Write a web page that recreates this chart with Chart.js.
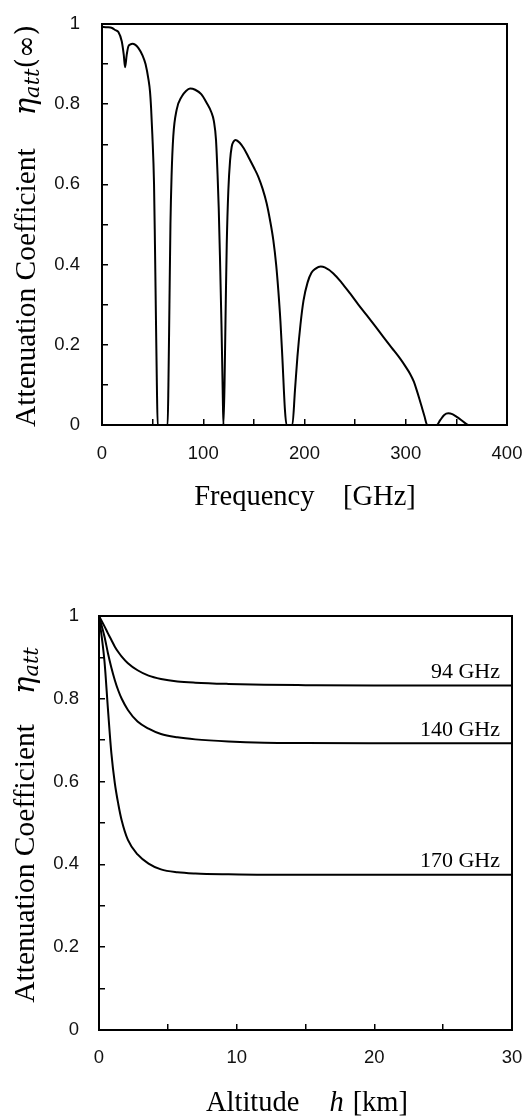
<!DOCTYPE html>
<html>
<head>
<meta charset="utf-8">
<script src="https://cdn.jsdelivr.net/npm/chart.js@4.4.1/dist/chart.umd.min.js"></script>
<style>
  body { margin: 0; background: #fff; }
  canvas { position: absolute; left: 0; }
  #freq-chart { top: 0; }
  #alt-chart { top: 560px; }
</style>
</head>
<body>
<canvas id="freq-chart" width="526" height="545"></canvas>
<canvas id="alt-chart" width="526" height="558"></canvas>
<script>
// top chart: attenuation coefficient at infinity vs frequency
const freqGHz = [0, 5, 10, 13, 16.2, 19.5, 21.5, 22.8, 24.4, 26, 28, 30, 33, 36, 40, 43, 46, 47.4, 48.5, 49.7,
  51.4, 52.3, 53.3, 54.2, 55, 60, 64.8, 65.6, 66.6, 67.6, 68.7, 70.4, 73.7, 78.7, 83, 87, 92, 98, 103.4, 108,
  110.5, 112.6, 114.2, 115.3, 116.5, 118, 119.2, 119.9, 121, 122.2, 123.2, 124.8, 126.5, 128.1, 130, 132, 136,
  140, 144.5, 150, 154.4, 158.5, 162.6, 166, 169.2, 172, 174.1, 176.2, 178.1, 180.7, 182.3, 185, 188, 190.6,
  193, 196, 199, 203, 207, 211, 216, 220, 228.5, 237, 245, 253, 261.4, 270, 277.8, 286, 294.3, 300, 304.2,
  308, 310.8, 313.5, 315.7, 318.5, 321.2, 326, 330.5, 334, 338, 342, 346, 350, 355, 359, 362, 380, 400];
const etaInf = [0.993, 0.992, 0.99, 0.985, 0.98, 0.957, 0.923, 0.892, 0.923, 0.944, 0.949, 0.951, 0.948, 0.94,
  0.922, 0.9, 0.86, 0.832, 0.79, 0.725,
  0.6, 0.45, 0.262, 0.1, 0, 0, 0, 0.1, 0.3, 0.5, 0.62, 0.72, 0.786, 0.819, 0.833, 0.839, 0.836, 0.825, 0.803, 0.78,
  0.758, 0.711, 0.62, 0.54, 0.42, 0.25, 0.087, 0, 0.1, 0.3, 0.45, 0.586, 0.66, 0.694, 0.707, 0.711, 0.704,
  0.69, 0.669, 0.642, 0.619, 0.59, 0.553, 0.51, 0.461, 0.4, 0.337, 0.26, 0.17, 0.037, 0, 0, 0, 0.087,
  0.17, 0.25, 0.31, 0.355, 0.38, 0.39, 0.395, 0.393, 0.378, 0.354, 0.328, 0.301, 0.274, 0.246, 0.22, 0.193, 0.166, 0.145, 0.128,
  0.108, 0.087, 0.065, 0.046, 0.022, 0, 0, 0, 0.012, 0.025, 0.029, 0.027, 0.021, 0.012, 0.004, 0, 0, 0];

// bottom chart: attenuation coefficient vs altitude
const altitudeKm = [0, 0.4, 0.65, 0.9, 1.15, 1.4, 1.65, 2.1, 2.8, 3.6, 4.5, 5.7, 7, 9.4, 12, 15, 20, 25, 30];
const eta94 = [1, 0.975, 0.958, 0.942, 0.926, 0.913, 0.902, 0.886, 0.869, 0.856, 0.848, 0.842, 0.839, 0.836, 0.834, 0.833, 0.832, 0.832, 0.832];
const eta140 = [1, 0.95, 0.91, 0.875, 0.845, 0.82, 0.8, 0.773, 0.745, 0.728, 0.715, 0.707, 0.702, 0.697, 0.694, 0.693, 0.6925, 0.6925, 0.6925];
const eta170 = [1, 0.89, 0.775, 0.668, 0.596, 0.546, 0.506, 0.459, 0.424, 0.402, 0.388, 0.381, 0.378, 0.376, 0.375, 0.375, 0.375, 0.375, 0.375];
const curveLabels = ['94 GHz', '140 GHz', '170 GHz'];

const tickFont = { family: '"Liberation Sans", Arial, sans-serif', size: 18.5 };
const serif = '"Liberation Serif", "Times New Roman", serif';
const mathFont = '"DejaVu Serif", serif';

function toPoints(xs, ys) {
  return xs.map((x, i) => ({ x: x, y: ys[i] }));
}

function richText(ctx, parts, x, y, vertical) {
  ctx.save();
  ctx.translate(x, y);
  if (vertical) ctx.rotate(-Math.PI / 2);
  ctx.fillStyle = '#000';
  ctx.textAlign = 'left';
  ctx.textBaseline = 'alphabetic';
  const widths = parts.map(p => { ctx.font = p.font; return ctx.measureText(p.text).width; });
  let total = 0;
  parts.forEach((p, i) => { total += widths[i] + (p.after || 0); });
  let pos = -total / 2;
  parts.forEach((p, i) => {
    ctx.font = p.font;
    ctx.fillText(p.text, pos, p.dy || 0);
    pos += widths[i] + (p.after || 0);
  });
  ctx.restore();
}

const decor = {
  id: 'decor',
  afterDatasetsDraw(chart, args, opts) {
    const ctx = chart.ctx;
    const a = chart.chartArea;
    ctx.save();
    ctx.strokeStyle = '#000';
    ctx.lineWidth = 2;
    ctx.strokeRect(a.left, a.top, a.right - a.left, a.bottom - a.top);
    ctx.restore();
    richText(ctx, opts.xTitle, opts.xTitleX, opts.xTitleY, false);
    richText(ctx, opts.yTitle, opts.yTitleX, opts.yTitleY, true);
    if (opts.curveLabels) {
      chart.data.datasets.forEach((ds, i) => {
        const pts = chart.getDatasetMeta(i).data;
        const last = pts[pts.length - 1];
        ctx.save();
        ctx.font = '22px ' + serif;
        ctx.fillStyle = '#000';
        ctx.textAlign = 'right';
        ctx.textBaseline = 'alphabetic';
        ctx.fillText(ds.label, a.right - 12, last.y - 7.5);
        ctx.restore();
      });
    }
  }
};

function axes(xMax, xStep, xEvery, yWidth, xHeight, xPad, yPad) {
  const grid = { drawOnChartArea: false, color: '#000', lineWidth: 1.5, tickLength: -6 };
  const border = { display: true, color: '#000', width: 2 };
  return {
    x: {
      type: 'linear', min: 0, max: xMax,
      // fixed axis size, no extra label overhang padding
      afterFit: s => { s.height = xHeight; s.paddingLeft = 0; s.paddingRight = 0; },
      border: border, grid: grid,
      ticks: {
        stepSize: xStep, autoSkip: false, maxRotation: 0, padding: xPad, color: '#111', font: tickFont,
        callback: v => (v % xEvery === 0 ? String(v) : '')
      }
    },
    y: {
      min: 0, max: 1,
      afterFit: s => { s.width = yWidth; s.paddingTop = 0; s.paddingBottom = 0; },
      border: border, grid: grid,
      ticks: {
        stepSize: 0.1, autoSkip: false, padding: yPad, color: '#111', font: tickFont,
        callback: v => { const k = Math.round(v * 10); return k % 2 === 0 ? String(k / 10) : ''; }
      }
    }
  };
}

const lineStyle = { borderColor: '#000', borderWidth: 2, pointRadius: 0, fill: false, cubicInterpolationMode: 'monotone' };

new Chart(document.getElementById('freq-chart').getContext('2d'), {
  type: 'line',
  data: {
    datasets: [Object.assign({ label: 'eta', data: toPoints(freqGHz, etaInf) }, lineStyle)]
  },
  options: {
    responsive: false,
    animation: false,
    layout: { padding: { top: 24, right: 19, left: 0, bottom: 0 } },
    scales: axes(400, 50, 100, 102, 120, 24, 28),
    plugins: {
      legend: { display: false },
      tooltip: { enabled: false },
      decor: {
        xTitle: [{ text: 'Frequency    [GHz]', font: '28.5px ' + serif }],
        xTitleX: 305, xTitleY: 505,
        yTitle: [
          { text: 'Attenuation Coefficient', font: '29.5px ' + serif, after: 33 },
          { text: 'η', font: 'italic 29px ' + mathFont },
          { text: 'att', font: 'italic 21px ' + mathFont, dy: 4 },
          { text: '(∞)', font: '27px ' + mathFont }
        ],
        yTitleX: 35, yTitleY: 226
      }
    }
  },
  plugins: [decor]
});

new Chart(document.getElementById('alt-chart').getContext('2d'), {
  type: 'line',
  data: {
    datasets: [
      Object.assign({ label: curveLabels[0], data: toPoints(altitudeKm, eta94) }, lineStyle),
      Object.assign({ label: curveLabels[1], data: toPoints(altitudeKm, eta140) }, lineStyle),
      Object.assign({ label: curveLabels[2], data: toPoints(altitudeKm, eta170) }, lineStyle)
    ]
  },
  options: {
    responsive: false,
    animation: false,
    layout: { padding: { top: 56, right: 14, left: 0, bottom: 0 } },
    scales: axes(30, 5, 10, 99, 88, 23, 26),
    plugins: {
      legend: { display: false },
      tooltip: { enabled: false },
      decor: {
        xTitle: [
          { text: 'Altitude', font: '28.5px ' + serif, after: 30 },
          { text: 'h', font: 'italic 28.5px ' + serif, after: 9 },
          { text: '[km]', font: '28.5px ' + serif }
        ],
        xTitleX: 307, xTitleY: 551,
        yTitle: [
          { text: 'Attenuation Coefficient', font: '29.5px ' + serif, after: 30 },
          { text: 'η', font: 'italic 29px ' + mathFont },
          { text: 'att', font: 'italic 21px ' + mathFont, dy: 4 }
        ],
        yTitleX: 33.5, yTitleY: 265,
        curveLabels: true
      }
    }
  },
  plugins: [decor]
});
</script>
</body>
</html>
